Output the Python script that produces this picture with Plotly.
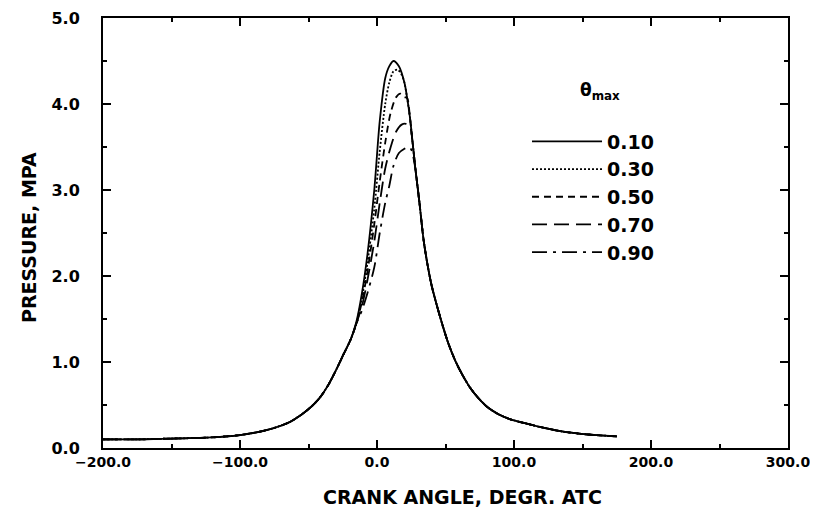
import plotly.graph_objects as go

# shared tails of all five curves (crank angle in deg, pressure in MPa)
ang_left = [-200, -175, -150, -125, -100, -80, -64, -55, -48, -42, -36, -31, -25, -19]
p_left = [0.10, 0.10, 0.11, 0.12, 0.15, 0.21, 0.30, 0.39, 0.48, 0.58, 0.72, 0.87, 1.07, 1.27]

ang_right = [37, 40, 44, 48, 52, 57, 62, 68, 74, 81, 89, 98, 110, 123, 136, 149, 160, 175]
p_right = [2.12, 1.88, 1.64, 1.42, 1.22, 1.02, 0.86, 0.70, 0.58, 0.47, 0.39, 0.33,
           0.28, 0.23, 0.19, 0.165, 0.15, 0.135]

# peak region, theta_max = 0.10 (the outer, solid curve)
ang_010 = [-15, -11, -7, -2, 2, 6, 9, 12, 16, 20, 22, 24, 26, 28, 31, 34]
p_010 = [1.47, 1.80, 2.25, 3.00, 3.80, 4.30, 4.44, 4.50, 4.44, 4.25, 4.07, 3.85, 3.55, 3.25, 2.85, 2.42]

ang_030 = [-15, -11, -7, -2, 2, 6, 9, 12, 15, 18]
p_030 = [1.45, 1.75, 2.15, 2.78, 3.45, 4.00, 4.25, 4.38, 4.40, 4.34]

ang_050 = [-15, -11, -7, -2, 2, 6, 10, 14, 17, 20]
p_050 = [1.45, 1.70, 2.05, 2.60, 3.10, 3.55, 3.90, 4.08, 4.12, 4.08]

ang_070 = [-15, -11, -7, -2, 2, 6, 10, 14, 18, 21, 24]
p_070 = [1.45, 1.65, 1.95, 2.40, 2.85, 3.25, 3.50, 3.68, 3.76, 3.77, 3.74]

ang_090 = [-15, -11, -7, -2, 2, 6, 9, 12, 16, 20, 23, 25]
p_090 = [1.45, 1.60, 1.80, 2.10, 2.50, 2.85, 3.05, 3.28, 3.43, 3.48, 3.50, 3.47]

labels = ["0.10", "0.30", "0.50", "0.70", "0.90"]
dashes = ["solid", "2px,2px", "7px,5px", "15px,7px", "15px,6px,3px,6px"]


def full_curve(ang_mid, p_mid):
    '''Join a peak segment to the shared tails, picking up the
    0.10 curve where the segment ends.'''
    last = ang_mid[-1]
    ang_rest = [a for a in ang_010 if a > last + 1.5]
    p_rest = [p for a, p in zip(ang_010, p_010) if a > last + 1.5]
    return (ang_left + ang_mid + ang_rest + ang_right,
            p_left + p_mid + p_rest + p_right)


mids = [(ang_010, p_010), (ang_030, p_030), (ang_050, p_050),
        (ang_070, p_070), (ang_090, p_090)]

font = "DejaVu Sans, Arial, sans-serif"
fig = go.Figure()
for (a, p), lab, d in zip(mids, labels, dashes):
    x, y = full_curve(a, p)
    fig.add_scatter(x=x, y=y, mode="lines", name=lab,
                    line=dict(color="black", width=1.8, dash=d,
                              shape="spline", smoothing=0.8))

axis_style = dict(showline=True, linecolor="black", linewidth=2, mirror="ticks",
                  ticks="inside", ticklen=8, tickwidth=1.5, tickcolor="black",
                  showgrid=False, zeroline=False, tickformat=".1f", automargin=False)

fig.update_xaxes(range=[-200, 300], tick0=-200, dtick=100, ticklabeloverflow="allow",
                 tickfont=dict(family=font, size=14, color="black", weight="bold"),
                 minor=dict(ticks="inside", ticklen=4, dtick=50, tickcolor="black"),
                 **axis_style)
fig.update_yaxes(range=[0, 5], tick0=0, dtick=1, ticklabelstandoff=18,
                 tickfont=dict(family=font, size=16, color="black", weight="bold"),
                 minor=dict(ticks="inside", ticklen=4, dtick=0.5, tickcolor="black"),
                 **axis_style)

fig.add_annotation(text="CRANK ANGLE, DEGR. ATC", xref="paper", yref="paper",
                   x=0.525, y=-0.115, showarrow=False, xanchor="center", yanchor="middle",
                   font=dict(family=font, size=19, color="black", weight="bold"))
fig.add_annotation(text="PRESSURE, MPA", xref="paper", yref="paper",
                   x=-0.107, y=0.49, textangle=-90, showarrow=False,
                   xanchor="center", yanchor="middle",
                   font=dict(family=font, size=19, color="black", weight="bold"))
fig.add_annotation(text="θ<sub>max</sub>", xref="paper", yref="paper",
                   x=0.726, y=0.828, showarrow=False, xanchor="center", yanchor="middle",
                   font=dict(family=font, size=17, color="black", weight="bold"))

# the page body adds an 8px margin, so the figure is made smaller to fit the window
fig.update_layout(
    width=810, height=504,
    margin=dict(l=95, r=30, t=10, b=64),
    paper_bgcolor="white", plot_bgcolor="white",
    showlegend=True,
    legend=dict(x=0.619, y=0.757, xanchor="left", yanchor="top",
                bgcolor="rgba(0,0,0,0)", itemwidth=70, tracegroupgap=0,
                font=dict(family=font, size=19, color="black", weight="bold")),
)

fig.write_html("out.html")
